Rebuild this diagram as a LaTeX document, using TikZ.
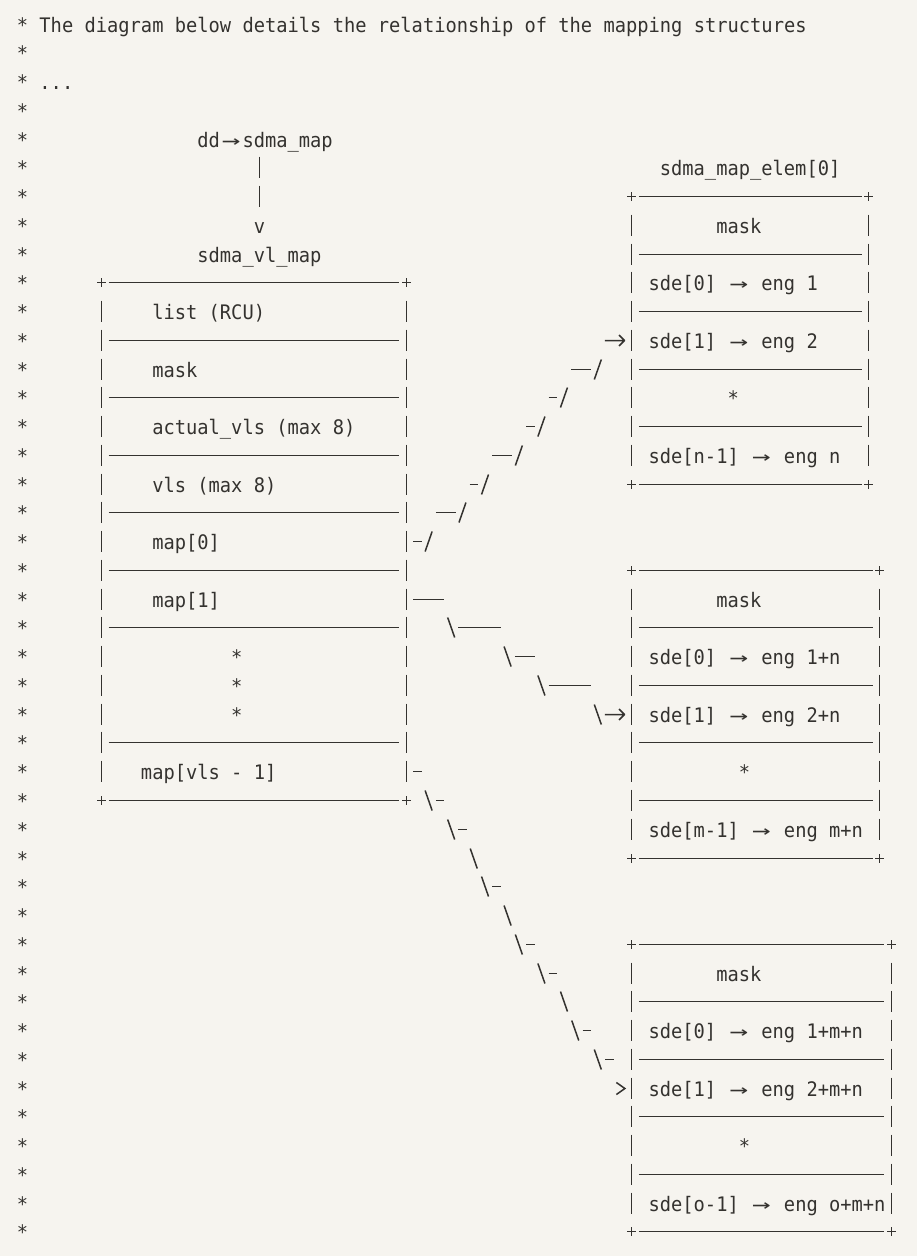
\documentclass[tikz,border=0pt]{standalone}
\usepackage{fontspec}
\usepackage{graphicx}
\newfontfamily\codefont[FakeStretch=0.937]{DejaVu Sans Mono}
\definecolor{bg}{RGB}{246,244,239}
\definecolor{ink}{RGB}{52,50,47}
\newcommand\DGx{16.9}
\newcommand\DGw{11.28}
\newcommand\DGy{24}
\newcommand\DGh{28.76}
\newcommand\colL[1]{(\DGx+(#1)*\DGw)}
\newcommand\colC[1]{(\DGx+(#1+0.5)*\DGw)}
\newcommand\colS[1]{(round(\DGx+(#1+0.5)*\DGw-0.5)+0.5)}
\newcommand\rowC[1]{(round(\DGy+(#1)*\DGh-0.5)+0.5)}
\newcommand\arr{\makebox[22.56pt][c]{\scalebox{1.65}[1]{→}}}
\newcommand\TX[4]{\node[txt] (#1) at ({\colL{#2}},{\rowC{#3}+8.3}) {#4};}
\newcommand\HR[3]{\draw[ln] ({\colL{#1}+1.6},{\rowC{#3}}) -- ({\colL{#2+1}-1.2},{\rowC{#3}});}
\newcommand\VB[2]{\draw[ln] ({\colS{#1}},{\rowC{#2}-10.8}) -- ({\colS{#1}},{\rowC{#2}+10.8});}
\newcommand\PL[2]{\draw[ln] ({\colS{#1}-4.3},{\rowC{#2}}) -- ({\colS{#1}+4.3},{\rowC{#2}}) ({\colS{#1}},{\rowC{#2}-4.3}) -- ({\colS{#1}},{\rowC{#2}+4.3});}
\newcommand\FS[2]{\draw[ln] ({\colC{#1}-3.5},{\rowC{#2}+10}) -- ({\colC{#1}+3.5},{\rowC{#2}-10});}
\newcommand\BS[2]{\draw[ln] ({\colC{#1}-3.5},{\rowC{#2}-10}) -- ({\colC{#1}+3.5},{\rowC{#2}+10});}
\newcommand\AW[2]{\draw[ln,line join=round] ({\colL{#1}+1.5},{\rowC{#2}}) -- ({\colL{#1+2}-1.5},{\rowC{#2}}) ({\colL{#1+2}-7},{\rowC{#2}-5.5}) -- ({\colL{#1+2}-1.5},{\rowC{#2}}) -- ({\colL{#1+2}-7},{\rowC{#2}+5.5});}
\newcommand\GT[2]{\draw[ln,line join=miter] ({\colC{#1}-4},{\rowC{#2}-6}) -- ({\colC{#1}+4.5},{\rowC{#2}}) -- ({\colC{#1}-4},{\rowC{#2}+6});}
\newcommand\BOX[5]{%
  \PL{#1}{#3}\PL{#2}{#3}\PL{#1}{#4}\PL{#2}{#4}%
  \HR{#1+1}{#2-1}{#3}\HR{#1+1}{#2-1}{#4}%
  \foreach \r in {#5} {\HR{#1+1}{#2-1}{\r}}%
  \pgfmathtruncatemacro\ra{#3+1}\pgfmathtruncatemacro\rb{#4-1}%
  \foreach \r in {\ra,...,\rb} {\VB{#1}{\r}\VB{#2}{\r}}%
}
\begin{document}
\begin{tikzpicture}[x=1pt,y=-1pt,
  txt/.style={anchor=base west, inner sep=0pt, outer sep=0pt, text=ink,
    font=\codefont\fontsize{20pt}{24pt}\selectfont},
  ln/.style={draw=ink, line width=1.5pt}]
\fill[bg] (0,0) rectangle (917,1256);
\useasboundingbox (0,0) rectangle (917,1256);
% comment stars
\foreach \r in {0,...,42} {\node[txt] (st\r) at ({\colL{0}},{\rowC{\r}+8.3}) {*};}
\TX{title}{2}{0}{The diagram below details the relationship of the mapping structures}
\TX{dots}{2}{2}{...}
% top pointer
\TX{dd}{16}{4}{dd\arr sdma\_map}
\VB{21}{5}\VB{21}{6}
\TX{vv}{21}{7}{v}
\TX{vlmap}{16}{8}{sdma\_vl\_map}
% left box
\BOX{7}{34}{9}{27}{11,13,15,17,19,21,25}
\TX{list}{12}{10}{list (RCU)}
\TX{lmask}{12}{12}{mask}
\TX{actual}{12}{14}{actual\_vls (max 8)}
\TX{vls}{12}{16}{vls (max 8)}
\TX{map0}{12}{18}{map[0]}
\TX{map1}{12}{20}{map[1]}
\TX{ldotA}{19}{22}{*}
\TX{ldotB}{19}{23}{*}
\TX{ldotC}{19}{24}{*}
\TX{mapl}{11}{26}{map[vls - 1]}
% box elem 0
\TX{elem}{57}{5}{sdma\_map\_elem[0]}
\BOX{54}{75}{6}{16}{8,10,12,14}
\TX{amask}{62}{7}{mask}
\TX{a0}{56}{9}{sde[0] \arr{} eng 1}
\TX{a1}{56}{11}{sde[1] \arr{} eng 2}
\TX{adot}{63}{13}{*}
\TX{an}{56}{15}{sde[n-1] \arr{} eng n}
% box 2
\BOX{54}{76}{19}{29}{21,23,25,27}
\TX{bmask}{62}{20}{mask}
\TX{b0}{56}{22}{sde[0] \arr{} eng 1+n}
\TX{b1}{56}{24}{sde[1] \arr{} eng 2+n}
\TX{bdot}{64}{26}{*}
\TX{bm}{56}{28}{sde[m-1] \arr{} eng m+n}
% box 3
\BOX{54}{77}{32}{42}{34,36,38,40}
\TX{cmask}{62}{33}{mask}
\TX{c0}{56}{35}{sde[0] \arr{} eng 1+m+n}
\TX{c1}{56}{37}{sde[1] \arr{} eng 2+m+n}
\TX{cdot}{64}{39}{*}
\TX{co}{56}{41}{sde[o-1] \arr{} eng o+m+n}
% connector map[0] -> sde[1] of elem 0
\HR{35}{35}{18}\FS{36}{18}
\HR{37}{38}{17}\FS{39}{17}
\HR{40}{40}{16}\FS{41}{16}
\HR{42}{43}{15}\FS{44}{15}
\HR{45}{45}{14}\FS{46}{14}
\HR{47}{47}{13}\FS{48}{13}
\HR{49}{50}{12}\FS{51}{12}
\AW{52}{11}
% connector map[1] -> sde[1] of box 2
\HR{35}{37}{20}
\BS{38}{21}\HR{39}{42}{21}
\BS{43}{22}\HR{44}{45}{22}
\BS{46}{23}\HR{47}{50}{23}
\BS{51}{24}\AW{52}{24}
% connector map[vls-1] -> sde[1] of box 3
\HR{35}{35}{26}
\BS{36}{27}\HR{37}{37}{27}
\BS{38}{28}\HR{39}{39}{28}
\BS{40}{29}
\BS{41}{30}\HR{42}{42}{30}
\BS{43}{31}
\BS{44}{32}\HR{45}{45}{32}
\BS{46}{33}\HR{47}{47}{33}
\BS{48}{34}
\BS{49}{35}\HR{50}{50}{35}
\BS{51}{36}\HR{52}{52}{36}
\GT{53}{37}
\end{tikzpicture}
\end{document}
